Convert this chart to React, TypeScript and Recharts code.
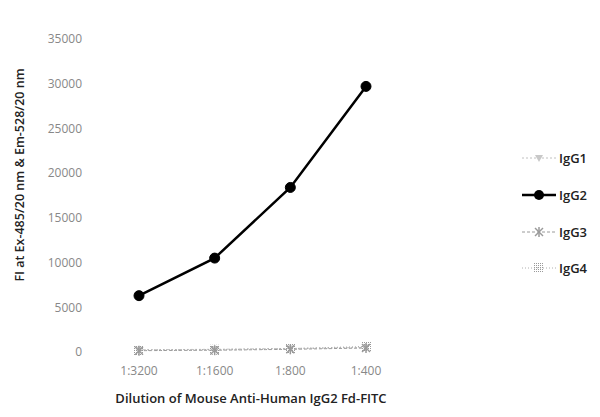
import React from "react";
import { LineChart, Line, XAxis, YAxis, Legend } from "recharts";

const dilutions = ["1:3200", "1:1600", "1:800", "1:400"];
const igg1 = [250, 300, 400, 500];
const igg2 = [6300, 10500, 18400, 29700];
const igg3 = [150, 200, 300, 450];
const igg4 = [200, 250, 350, 600];
const yTicks = [0, 5000, 10000, 15000, 20000, 25000, 30000, 35000];

const data = dilutions.map((d, i) => ({
  name: d,
  IgG1: igg1[i],
  IgG2: igg2[i],
  IgG3: igg3[i],
  IgG4: igg4[i],
}));

const FONT = "'Open Sans', 'DejaVu Sans', sans-serif";

const TriDot = (props: any) => {
  const { cx, cy } = props;
  return (
    <polygon
      points={`${cx - 4},${cy - 3} ${cx + 4},${cy - 3} ${cx},${cy + 4}`}
      fill="#c8c8c8"
    />
  );
};

const StarDot = (props: any) => {
  const { cx, cy } = props;
  return (
    <g stroke="#9a9a9a" strokeWidth={1.5}>
      <line x1={cx - 4} y1={cy - 4} x2={cx + 4} y2={cy + 4} />
      <line x1={cx - 4} y1={cy + 4} x2={cx + 4} y2={cy - 4} />
      <line x1={cx} y1={cy - 5} x2={cx} y2={cy + 5} />
    </g>
  );
};

const SquareDot = (props: any) => {
  const { cx, cy } = props;
  return (
    <rect x={cx - 5} y={cy - 5} width={10} height={10} fill="url(#dots)" />
  );
};

const legendItems = [
  { name: "IgG1", color: "#c0c0c0", dash: "2 2", marker: "tri" },
  { name: "IgG2", color: "#000", dash: undefined, marker: "circle" },
  { name: "IgG3", color: "#9a9a9a", dash: "3 2", marker: "star" },
  { name: "IgG4", color: "#b0b0b0", dash: "1 2", marker: "square" },
];

const renderLegend = () => (
  <div style={{ fontFamily: FONT }}>
    {legendItems.map((it) => (
      <div
        key={it.name}
        style={{ display: "flex", alignItems: "center", height: 36.7 }}
      >
        <svg width={34} height={14}>
          <line
            x1={0}
            y1={7}
            x2={34}
            y2={7}
            stroke={it.color}
            strokeWidth={it.marker === "circle" ? 2.5 : 1}
            strokeDasharray={it.dash}
          />
          {it.marker === "circle" && <circle cx={17} cy={7} r={5} fill="#000" />}
          {it.marker === "tri" && <TriDot cx={17} cy={7} />}
          {it.marker === "star" && <StarDot cx={17} cy={7} />}
          {it.marker === "square" && <SquareDot cx={17} cy={7} />}
        </svg>
        <span
          style={{
            marginLeft: 3,
            fontSize: 13,
            fontWeight: 600,
            color: "#222",
          }}
        >
          {it.name}
        </span>
      </div>
    ))}
  </div>
);

export default function App() {
  return (
    <div style={{ background: "#fff", width: 600, height: 417 }}>
      <style>{`body{margin:0;background:#fff}`}</style>
      <LineChart
        width={600}
        height={417}
        data={data}
        margin={{ top: 39, right: 120, bottom: 20, left: 0 }}
      >
        <defs>
          <pattern id="dots" width={2} height={2} patternUnits="userSpaceOnUse">
            <rect width={1} height={1} fill="#999" />
          </pattern>
        </defs>
        <XAxis
          dataKey="name"
          axisLine={false}
          tickLine={false}
          tickMargin={8}
          height={45}
          padding={{ left: 39, right: 36 }}
          tick={{ fontSize: 12, fill: "#888", fontFamily: FONT }}
          label={{
            value: "Dilution of Mouse Anti-Human IgG2 Fd-FITC",
            position: "insideBottom",
            offset: -6,
            style: { fontSize: 13, fill: "#222", fontFamily: FONT, fontWeight: 600 },
          }}
        />
        <YAxis
          width={100}
          domain={[0, 35000]}
          ticks={yTicks}
          axisLine={false}
          tickLine={false}
          tickMargin={12}
          tick={{ fontSize: 12, fill: "#888", fontFamily: FONT }}
          label={{
            content: () => (
              <text
                x={19}
                y={175}
                transform="rotate(-90 19 175)"
                textAnchor="middle"
                dominantBaseline="central"
                style={{ fontSize: 12.5, fill: "#222", fontFamily: FONT, fontWeight: 600 }}
              >
                FI at Ex-485/20 nm &amp; Em-528/20 nm
              </text>
            ),
          }}
        />
        <Legend
          layout="vertical"
          align="right"
          verticalAlign="top"
          content={renderLegend}
          wrapperStyle={{ left: 522, top: 140, width: 78 }}
        />
        <Line
          dataKey="IgG1"
          stroke="#c0c0c0"
          strokeDasharray="2 2"
          strokeWidth={1}
          dot={<TriDot />}
          isAnimationActive={false}
        />
        <Line
          dataKey="IgG3"
          stroke="#9a9a9a"
          strokeDasharray="3 2"
          strokeWidth={1}
          dot={<StarDot />}
          isAnimationActive={false}
        />
        <Line
          dataKey="IgG4"
          stroke="#b0b0b0"
          strokeDasharray="1 2"
          strokeWidth={1.5}
          dot={<SquareDot />}
          isAnimationActive={false}
        />
        <Line
          dataKey="IgG2"
          stroke="#000"
          strokeWidth={2.5}
          dot={{ r: 5, fill: "#000", stroke: "#000", strokeWidth: 1 }}
          isAnimationActive={false}
        />
      </LineChart>
    </div>
  );
}
